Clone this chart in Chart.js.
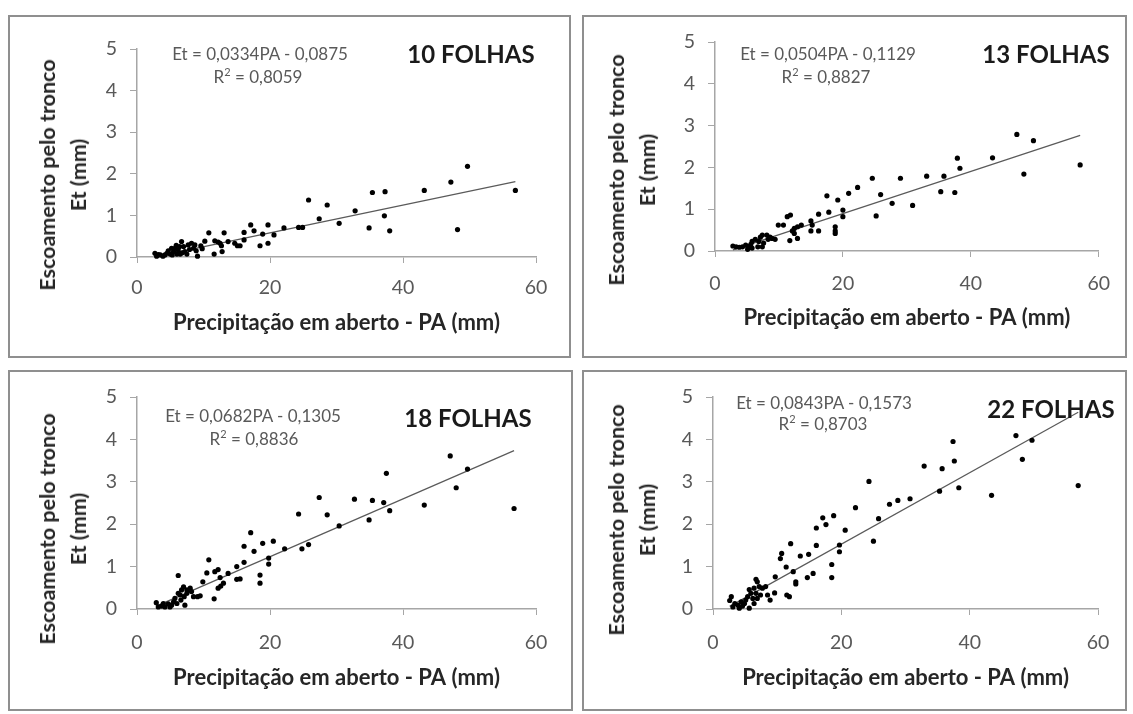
<!DOCTYPE html>
<html><head><meta charset="utf-8">
<script src="https://cdn.jsdelivr.net/npm/chart.js@4.4.0/dist/chart.umd.min.js"></script>
<style>
html,body{margin:0;padding:0;background:#fff;}
#page{position:relative;width:1133px;height:714px;overflow:hidden;background:#fff;font-family:Lato,"Open Sans",sans-serif;}
.panel{position:absolute;box-sizing:border-box;border:2px solid #8f8f8f;}
.panel canvas{position:absolute;left:0;top:0;}
.txt{position:absolute;transform:translate(-50%,-50%);white-space:nowrap;}
.eq{font-size:17px;color:#595959;}
.eq sup{font-size:11px;}
.lbl{font-size:24px;font-weight:bold;color:#1a1a1a;}
.yt{position:absolute;transform:translate(-50%,-50%) rotate(-90deg);white-space:nowrap;text-align:center;font-size:21.5px;font-weight:bold;color:#262626;line-height:31px;}
</style></head><body><div id="page"></div>
<script>
// ---- data ----
const panelLabels = ["10 FOLHAS","13 FOLHAS","18 FOLHAS","22 FOLHAS"];
const slopes = [0.0334, 0.0504, 0.0682, 0.0843];
const intercepts = [-0.0875, -0.1129, -0.1305, -0.1573];
const r2Values = ["0,8059","0,8827","0,8836","0,8703"];
const xTicks = [0, 20, 40, 60];
const yTicks = [0, 1, 2, 3, 4, 5];
const xTitle = "Precipitação em aberto - PA (mm)";
const yTitle = ["Escoamento pelo tronco", "Et (mm)"];

const pa10 = [56.9,49.7,48.2,47.2,43.2,38.0,37.3,37.2,35.4,34.9,32.8,30.4,28.6,27.4,25.8,24.9,24.3,22.1,20.6,19.7,19.7,18.9,18.5,17.6,17.1,16.1,16.1,15.5,15.1,14.7,13.7,13.1,12.8,12.7,12.5,12.2,11.7,11.6,10.8,10.2,9.8,9.6,9.1,8.9,8.7,8.5,8.2,7.9,7.7,7.5,7.2,7.0,6.8,6.7,6.5,6.4,6.2,6.0,5.9,5.7,5.5,5.3,5.2,5.0,4.7,4.5,4.2,3.9,3.5,3.2,2.95,2.7];
const et10 = [1.60,2.18,0.66,1.80,1.60,0.63,1.57,0.99,1.55,0.70,1.11,0.81,1.25,0.92,1.37,0.71,0.71,0.70,0.53,0.77,0.33,0.55,0.27,0.63,0.77,0.59,0.41,0.27,0.27,0.33,0.37,0.58,0.13,0.27,0.33,0.36,0.39,0.07,0.58,0.38,0.20,0.27,0.02,0.15,0.29,0.21,0.33,0.18,0.29,0.07,0.13,0.25,0.10,0.37,0.07,0.25,0.17,0.07,0.28,0.21,0.13,0.05,0.21,0.07,0.15,0.09,0.05,0.02,0.05,0.06,0.02,0.09];

const pa13 = [57.1,49.8,48.3,47.2,43.4,38.3,37.9,37.5,35.8,35.3,33.1,30.9,29.0,27.7,25.9,25.2,24.6,22.3,20.9,20.0,20.0,19.2,18.8,18.8,18.8,17.8,17.5,16.2,16.2,15.2,15.0,15.0,13.5,12.9,12.9,12.4,12.4,12.1,11.8,11.7,11.3,10.7,9.9,9.4,8.9,8.6,8.3,8.1,7.6,7.4,7.4,7.1,6.85,6.7,6.3,5.8,5.8,5.6,5.2,5.1,4.8,4.3,3.8,3.3,2.8];
const et13 = [2.06,2.64,1.84,2.79,2.23,1.98,2.22,1.40,1.79,1.42,1.79,1.09,1.74,1.14,1.35,0.84,1.74,1.52,1.38,0.98,0.82,1.22,0.58,0.48,0.42,0.93,1.32,0.88,0.48,0.62,0.72,0.48,0.62,0.58,0.30,0.54,0.42,0.48,0.86,0.25,0.82,0.62,0.62,0.28,0.30,0.33,0.28,0.38,0.19,0.38,0.10,0.33,0.23,0.10,0.28,0.23,0.07,0.16,0.10,0.04,0.14,0.10,0.09,0.10,0.12];

const pa18 = [56.7,49.7,48.0,47.1,43.2,38.0,37.5,37.1,35.4,34.9,32.7,30.4,28.6,27.4,25.8,24.8,24.3,22.2,20.5,19.8,19.8,18.9,18.5,18.5,17.6,17.1,16.1,16.1,15.5,15.0,15.0,13.7,13.0,12.6,12.5,12.2,12.2,11.7,11.6,10.8,10.5,9.9,9.5,9.1,8.5,8.2,8.0,7.5,7.5,7.2,7.1,7.0,6.7,6.6,6.5,6.2,6.2,6.0,5.7,5.5,5.2,4.96,4.7,4.2,3.96,3.7,3.2,2.9];
const et18 = [2.37,3.30,2.86,3.61,2.45,2.32,3.20,2.51,2.56,2.10,2.59,1.96,2.22,2.63,1.52,1.42,2.24,1.42,1.60,1.20,1.06,1.55,0.80,0.61,1.36,1.80,1.48,1.10,0.71,1.00,0.70,0.84,0.61,0.54,0.74,0.93,0.49,0.88,0.24,1.16,0.85,0.64,0.31,0.29,0.29,0.41,0.49,0.45,0.37,0.09,0.29,0.52,0.45,0.21,0.33,0.79,0.37,0.13,0.25,0.17,0.09,0.05,0.12,0.05,0.13,0.07,0.05,0.15];

const pa22 = [56.9,49.7,48.2,47.2,43.4,38.3,37.6,37.4,35.7,35.3,32.9,30.7,28.8,27.5,25.8,25.0,24.3,22.2,20.6,19.7,19.7,18.8,18.5,18.5,17.6,17.1,16.1,16.1,15.6,14.9,14.7,13.6,12.9,12.9,12.5,12.1,11.9,11.5,11.4,10.7,10.5,9.7,9.6,8.9,8.5,8.2,7.7,7.4,7.2,6.9,6.9,6.7,6.7,6.4,6.4,6.2,5.9,5.65,5.65,5.4,5.1,4.9,4.6,4.4,4.1,3.9,3.4,3.1,2.85,2.6];
const et22 = [2.91,3.98,3.53,4.09,2.68,2.86,3.49,3.95,3.31,2.78,3.37,2.60,2.56,2.47,2.13,1.60,3.01,2.39,1.86,1.51,1.35,2.20,1.05,0.74,1.99,2.15,1.91,1.50,0.84,1.29,0.74,1.25,0.64,0.59,0.88,1.54,0.29,0.33,0.99,1.31,1.19,0.76,0.38,0.21,0.33,0.53,0.49,0.33,0.53,0.64,0.25,0.70,0.37,0.49,0.13,0.25,0.37,0.46,0.02,0.29,0.21,0.13,0.07,0.17,0.02,0.09,0.13,0.05,0.29,0.20];

const paSets = [pa10, pa13, pa18, pa22];
const etSets = [et10, et13, et18, et22];

// ---- layout (page pixel positions) ----
const layouts = [
  {box:[8,15,563,343], area:[137,536,49,257], xLabPad:13, xTitlePad:20, yt:[62.5,175], eq:[260,53], r2:[258,76], lbl:[471,53]},
  {box:[582,15,545,343], area:[715,1109,42,251], xLabPad:15, xTitlePad:25, yt:[632,170], eq:[828,53], r2:[826,76], lbl:[1046,53]},
  {box:[8,370,565,341], area:[137,536,397,609], xLabPad:15.6, xTitlePad:18, yt:[62.5,529], eq:[253,415], r2:[254,438], lbl:[468,417]},
  {box:[582,370,545,341], area:[713,1106,397,609], xLabPad:15.6, xTitlePad:18, yt:[632,520], eq:[824,402], r2:[823,423], lbl:[1051,408]}
];

const page = document.getElementById('page');
const fmt = v => Math.abs(v).toFixed(4).replace('.', ',');
const FONT = 'Lato, "Open Sans", sans-serif';
const axisColor = '#a6a6a6';
const tickColor = '#595959';

function addText(cls, pos, html) {
  const d = document.createElement('div');
  d.className = cls;
  d.style.left = pos[0] + 'px';
  d.style.top = pos[1] + 'px';
  d.innerHTML = html;
  page.appendChild(d);
}

layouts.forEach((L, i) => {
  const [bx, by, bw, bh] = L.box;
  const panel = document.createElement('div');
  panel.className = 'panel';
  panel.style.left = bx + 'px'; panel.style.top = by + 'px';
  panel.style.width = bw + 'px'; panel.style.height = bh + 'px';
  page.appendChild(panel);
  const cx = bx + 2, cy = by + 2, cw = bw - 4, ch = bh - 4;
  const canvas = document.createElement('canvas');
  canvas.width = cw; canvas.height = ch;
  canvas.style.width = cw + 'px'; canvas.style.height = ch + 'px';
  panel.appendChild(canvas);

  const [al, ar, at, ab] = L.area;
  const padTop = at - cy, padRight = cx + cw - ar, yW = al - cx, xH = cy + ch - ab;

  const pa = paSets[i], et = etSets[i];
  const pts = pa.map((x, k) => ({x: x, y: et[k]}));
  const xmin = Math.min(...pa), xmax = Math.max(...pa);
  const trend = [xmin, xmax].map(x => ({x: x, y: slopes[i] * x + intercepts[i]}));

  new Chart(canvas, {
    type: 'scatter',
    data: {datasets: [
      {data: pts, pointRadius: 2.6, pointHoverRadius: 2.6, pointBackgroundColor: '#000', pointBorderWidth: 0, order: 0, clip: false},
      {data: trend, showLine: true, borderColor: '#5a5a5a', borderWidth: 1.2, pointRadius: 0, order: 1, clip: false}
    ]},
    options: {
      responsive: false, animation: false, devicePixelRatio: 1,
      layout: {padding: {left: 0, right: padRight, top: padTop, bottom: 0}},
      plugins: {legend: {display: false}, tooltip: {enabled: false}},
      scales: {
        x: {
          type: 'linear', min: xTicks[0], max: xTicks[xTicks.length - 1],
          afterBuildTicks: s => { s.ticks = xTicks.map(v => ({value: v})); },
          ticks: {padding: L.xLabPad, color: tickColor, font: {family: FONT, size: 19.5}},
          grid: {drawOnChartArea: false, drawTicks: true, tickLength: 6, color: axisColor, lineWidth: 1},
          border: {display: true, color: axisColor, width: 1.5},
          title: {display: true, text: xTitle, color: '#262626', font: {family: FONT, size: 22, weight: 'bold'}, padding: {top: 0, bottom: L.xTitlePad}},
          afterFit: s => { s.height = xH; }
        },
        y: {
          type: 'linear', min: yTicks[0], max: yTicks[yTicks.length - 1],
          afterBuildTicks: s => { s.ticks = yTicks.map(v => ({value: v})); },
          ticks: {padding: 13, color: tickColor, font: {family: FONT, size: 19.5}},
          grid: {drawOnChartArea: false, drawTicks: true, tickLength: 7, color: axisColor, lineWidth: 1},
          border: {display: true, color: axisColor, width: 1.5},
          afterFit: s => { s.width = yW; }
        }
      }
    }
  });

  addText('yt', L.yt, yTitle.join('<br>'));
  addText('txt eq', L.eq, 'Et = ' + fmt(slopes[i]) + 'PA ' + (intercepts[i] < 0 ? '- ' : '+ ') + fmt(intercepts[i]));
  addText('txt eq', L.r2, 'R<sup>2</sup> = ' + r2Values[i]);
  addText('txt lbl', L.lbl, panelLabels[i]);
});
</script>
</body></html>
